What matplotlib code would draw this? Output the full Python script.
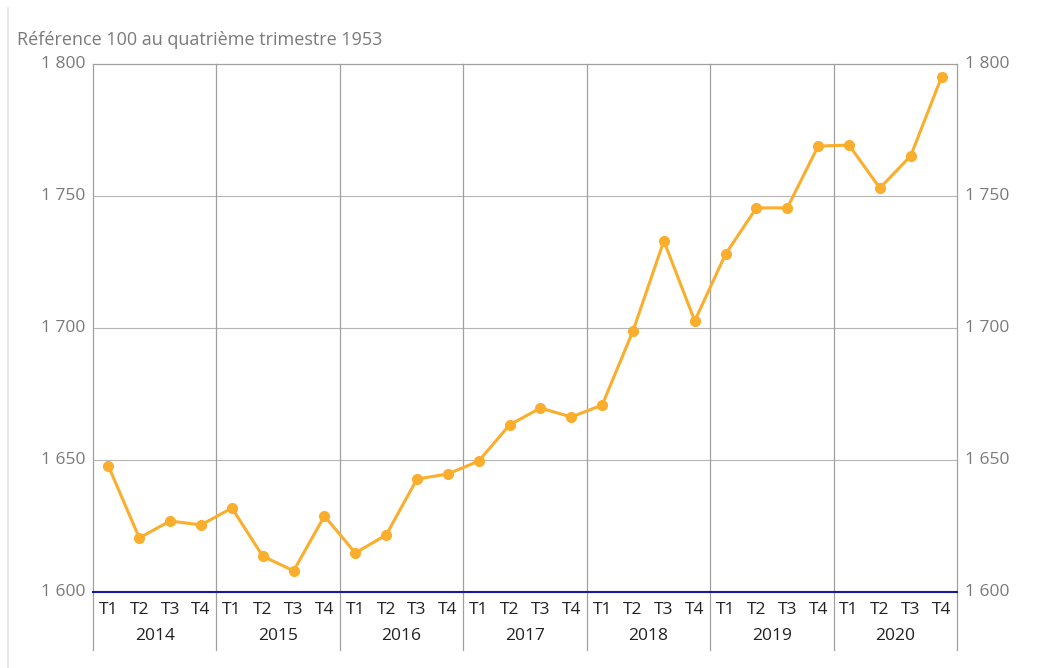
import matplotlib
matplotlib.use("Agg")
import matplotlib.pyplot as plt
import matplotlib.transforms as mtransforms

years = ["2014", "2015", "2016", "2017", "2018", "2019", "2020"]
quarters = ["T1", "T2", "T3", "T4"]
values = [
    1647.7, 1620.5, 1626.9, 1625.4,
    1631.8, 1613.6, 1608.0, 1628.8,
    1614.8, 1621.6, 1642.8, 1644.7,
    1649.6, 1663.3, 1669.7, 1666.3,
    1670.8, 1698.9, 1733.0, 1702.7,
    1728.0, 1745.5, 1745.5, 1768.9,
    1769.3, 1753.0, 1765.2, 1795.1,
]
yticks = [1600, 1650, 1700, 1750, 1800]

plt.rcParams["font.family"] = ["Open Sans", "DejaVu Sans"]

fig = plt.figure(figsize=(10.45, 6.68), dpi=100)
ax = fig.add_axes([93 / 1045, 76 / 668, 864 / 1045, 528 / 668])

x = list(range(len(values)))
ax.plot(x, values, color="#fbad2c", lw=2.2, marker="o", ms=7, zorder=4, clip_on=False)

ax.set_xlim(-0.5, len(values) - 0.5)
ax.set_ylim(1600, 1800)

# horizontal grid
for v in yticks[1:-1]:
    ax.axhline(v, color="#b5b5b5", lw=0.8, zorder=1)
ax.axhline(1600, color="#1a1aa0", lw=1.5, zorder=3, clip_on=False)

# year separators, extending under the labels
trans = mtransforms.blended_transform_factory(ax.transData, ax.transAxes)
for i in range(len(years) + 1):
    xb = i * 4 - 0.5
    ax.plot([xb, xb], [1, -0.11], transform=trans, color="#a0a0a0", lw=0.9,
            clip_on=False, zorder=1)

for s in ["left", "right", "top", "bottom"]:
    ax.spines[s].set_visible(False)
ax.plot([-0.5, len(values) - 0.5], [1, 1], transform=trans, color="#a0a0a0", lw=0.9, clip_on=False)

ax.set_xticks([])
ax.set_yticks([])

def fmt(v):
    return f"{v:,}".replace(",", " ")

ytrans_l = mtransforms.blended_transform_factory(ax.transAxes, ax.transData)
for v in yticks:
    ax.text(-0.009, v, fmt(v), transform=ytrans_l, ha="right", va="center",
            fontsize=12.5, color="#7a7a7a")
    ax.text(1.009, v, fmt(v), transform=ytrans_l, ha="left", va="center",
            fontsize=12.5, color="#7a7a7a")

for i, y in enumerate(years):
    for j, q in enumerate(quarters):
        ax.text(i * 4 + j, -0.034, q, transform=trans, ha="center", va="center",
                fontsize=12.5, color="#222222")
    ax.text(i * 4 + 1.5, -0.083, y, transform=trans, ha="center", va="center",
            fontsize=12.5, color="#222222")

fig.text(17 / 1045, 1 - 40 / 668, "Référence 100 au quatrième trimestre 1953",
         ha="left", va="center", fontsize=13, color="#7a7a7a")

# light frame on the left edge
fig.add_artist(plt.Line2D([8 / 1045, 8 / 1045], [0, 1 - 8 / 668], color="#e0e0e0", lw=1.2))

fig.savefig("out.png", dpi=100)
